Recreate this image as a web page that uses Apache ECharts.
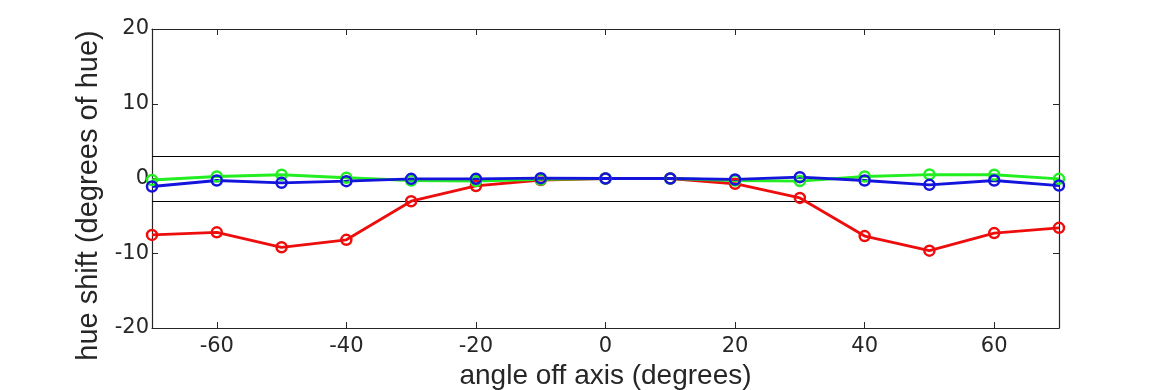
<!DOCTYPE html>
<html><head><meta charset="utf-8">
<script src="https://cdn.jsdelivr.net/npm/echarts@6/dist/echarts.min.js"></script>
<style>html,body{margin:0;padding:0;background:#fff}#c{width:1170px;height:390px}</style>
</head><body><div id="c"></div>
<script>
const angles = [-70,-60,-50,-40,-30,-20,-10,0,10,20,30,40,50,60,70];
const redShift   = [-7.55,-7.2,-9.2,-8.2,-3.04,-1.0,-0.2,0,0,-0.7,-2.6,-7.7,-9.65,-7.3,-6.6];
const greenShift = [-0.2,0.27,0.5,0.1,-0.27,-0.35,-0.13,0,0,-0.27,-0.35,0.27,0.53,0.5,-0.05];
const blueShift  = [-1.07,-0.27,-0.58,-0.36,-0.05,-0.05,0.05,0,0,-0.13,0.18,-0.27,-0.85,-0.27,-0.94];
const xTicks = [-60,-40,-20,0,20,40,60];
const yTicks = [-20,-10,0,10,20];
const thresholds = [3,-3];

const txt = '#262626';
const nameFont = 'Liberation Sans, Arial, sans-serif';
const tickFont = 'DejaVu Sans, sans-serif';
function pairs(v){ return angles.map((a,i)=>[a,v[i]]); }
function mkSeries(name,color,vals,extra){
  return Object.assign({
    name, type:'line', data:pairs(vals), symbol:'circle', symbolSize:10,
    lineStyle:{color, width:2.8}, itemStyle:{color:'rgba(255,255,255,0)', borderColor:color, borderWidth:2.5},
    emphasis:{disabled:true}, animation:false, z:3
  }, extra||{});
}
const chart = echarts.init(document.getElementById('c'));
chart.setOption({
  backgroundColor:'#fff',
  animation:false,
  grid:{left:152, right:111, top:29, bottom:62, containLabel:false, outerBoundsMode:'none'},
  xAxis:[{
    type:'value', min:-70, max:70, position:'bottom',
    name:'angle off axis (degrees)', nameLocation:'middle', nameGap:33,
    nameTextStyle:{color:txt, fontSize:28, fontFamily:nameFont},
    axisLine:{show:true, onZero:false, lineStyle:{color:txt, width:1.2}},
    axisTick:{show:true, inside:true, length:6, customValues:xTicks, lineStyle:{color:txt}},
    axisLabel:{color:txt, fontSize:21, fontFamily:tickFont, margin:8, customValues:xTicks},
    splitLine:{show:false}
  },{
    type:'value', min:-70, max:70, position:'top',
    axisLine:{show:true, onZero:false, lineStyle:{color:txt, width:1.2}},
    axisTick:{show:true, inside:true, length:6, customValues:xTicks, lineStyle:{color:txt}},
    axisLabel:{show:false}, splitLine:{show:false}
  }],
  yAxis:[{
    type:'value', min:-20, max:20, interval:10, position:'left',
    name:'hue shift (degrees of hue)', nameLocation:'middle', nameGap:42,
    nameTextStyle:{color:txt, fontSize:29, fontFamily:nameFont, padding:[0,34,0,0]},
    axisLine:{show:true, onZero:false, lineStyle:{color:txt, width:1.2}},
    axisTick:{show:true, inside:true, length:6, lineStyle:{color:txt}},
    axisLabel:{color:txt, fontSize:21, fontFamily:tickFont, margin:3},
    splitLine:{show:false}
  },{
    type:'value', min:-20, max:20, interval:10, position:'right',
    axisLine:{show:true, onZero:false, lineStyle:{color:txt, width:1.2}},
    axisTick:{show:true, inside:true, length:6, lineStyle:{color:txt}},
    axisLabel:{show:false}, splitLine:{show:false}
  }],
  series:[
    mkSeries('red','#ee0d0d',redShift,{
      markLine:{silent:true, symbol:['none','none'], animation:false,
        label:{show:false}, lineStyle:{color:'#000', width:1.2, type:'solid'},
        data:thresholds.map(t=>({yAxis:t})), z:1}
    }),
    mkSeries('green','#22ee22',greenShift),
    mkSeries('blue','#1414dd',blueShift)
  ]
});
</script></body></html>
